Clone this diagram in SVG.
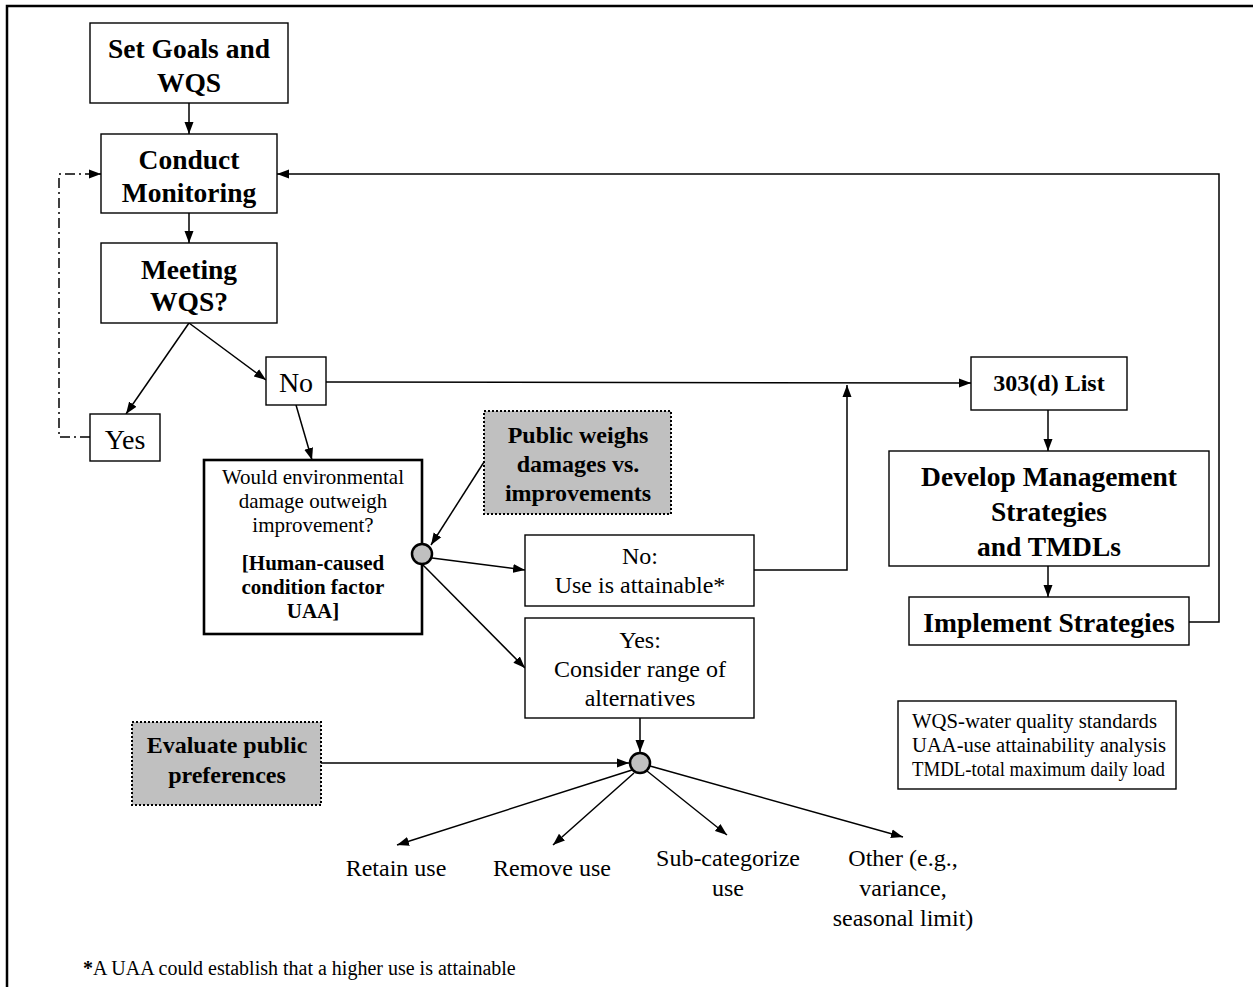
<svg xmlns="http://www.w3.org/2000/svg" width="1253" height="987" viewBox="0 0 1253 987">
  <defs>
    <marker id="arr" viewBox="0 0 12 10" refX="12" refY="5" markerWidth="12" markerHeight="10" markerUnits="userSpaceOnUse" orient="auto">
      <path d="M0,0.5 L12,5 L0,9.5 Z" fill="#000"/>
    </marker>
  </defs>
  <style>
    .box { fill: #fff; stroke: #000; stroke-width: 1.4; }
    .thick { fill: #fff; stroke: #000; stroke-width: 2.6; }
    .pub { fill: #c0c0c0; stroke: #000; stroke-width: 2; stroke-dasharray: 2 2; }
    .hub { fill: #c0c0c0; stroke: #000; stroke-width: 2.5; }
    .ln { fill: none; stroke: #000; stroke-width: 1.5; }
    .t { font-family: "Liberation Serif", "Times New Roman", serif; text-anchor: middle; fill: #000; }
    .s { text-anchor: start; }
    .b { font-weight: bold; }
  </style>
  <rect width="1253" height="987" fill="#fff"/>
  <!-- page frame -->
  <path d="M7,987 L7,6 L1253,6" fill="none" stroke="#000" stroke-width="2.5"/>

  <g id="connectors">
    <line class="ln" x1="189" y1="103" x2="189" y2="134" marker-end="url(#arr)"/>
    <line class="ln" x1="189" y1="213" x2="189" y2="243" marker-end="url(#arr)"/>
    <line class="ln" x1="189" y1="323" x2="126" y2="414" marker-end="url(#arr)"/>
    <line class="ln" x1="189" y1="323" x2="266" y2="380" marker-end="url(#arr)"/>
    <path class="ln" d="M90,437 L59,437 L59,174 L101,174" stroke-dasharray="10 4 2 4" marker-end="url(#arr)"/>
    <line class="ln" x1="326" y1="382" x2="971" y2="383" marker-end="url(#arr)"/>
    <line class="ln" x1="296" y1="405" x2="312" y2="460" marker-end="url(#arr)"/>
    <line class="ln" x1="484" y1="462" x2="431" y2="545" marker-end="url(#arr)"/>
    <line class="ln" x1="432" y1="558" x2="525" y2="570" marker-end="url(#arr)"/>
    <line class="ln" x1="422" y1="564" x2="525" y2="668" marker-end="url(#arr)"/>
    <path class="ln" d="M754,570 L847,570 L847,385" marker-end="url(#arr)"/>
    <line class="ln" x1="1048" y1="410" x2="1048" y2="451" marker-end="url(#arr)"/>
    <line class="ln" x1="1048" y1="566" x2="1048" y2="597" marker-end="url(#arr)"/>
    <path class="ln" d="M1189,622 L1219,622 L1219,174 L277,174" marker-end="url(#arr)"/>
    <line class="ln" x1="640" y1="718" x2="640" y2="752" marker-end="url(#arr)"/>
    <line class="ln" x1="321" y1="763" x2="629" y2="763" stroke-width="2.2" marker-end="url(#arr)"/>
    <line class="ln" x1="632" y1="770" x2="397" y2="845" marker-end="url(#arr)"/>
    <line class="ln" x1="634" y1="773" x2="553" y2="845" marker-end="url(#arr)"/>
    <line class="ln" x1="647" y1="771" x2="727" y2="835" marker-end="url(#arr)"/>
    <line class="ln" x1="650" y1="766" x2="903" y2="837" marker-end="url(#arr)"/>
  </g>

  <g id="set-goals">
    <rect class="box" x="90" y="23" width="198" height="80"/>
    <text class="t b" x="189" y="58" font-size="27.5">Set Goals and</text>
    <text class="t b" x="189" y="92" font-size="27.5">WQS</text>
  </g>
  <g id="conduct-monitoring">
    <rect class="box" x="101" y="134" width="176" height="79"/>
    <text class="t b" x="189" y="169" font-size="27.5">Conduct</text>
    <text class="t b" x="189" y="202" font-size="27.5">Monitoring</text>
  </g>
  <g id="meeting-wqs">
    <rect class="box" x="101" y="243" width="176" height="80"/>
    <text class="t b" x="189" y="279" font-size="27.5">Meeting</text>
    <text class="t b" x="189" y="311" font-size="27.5">WQS?</text>
  </g>
  <g id="yes">
    <rect class="box" x="90" y="414" width="70" height="47"/>
    <text class="t" x="125" y="449" font-size="28">Yes</text>
  </g>
  <g id="no">
    <rect class="box" x="266" y="357" width="60" height="48"/>
    <text class="t" x="296" y="392" font-size="28">No</text>
  </g>
  <g id="env-damage">
    <rect class="thick" x="204" y="460" width="218" height="174"/>
    <text class="t" x="313" y="484" font-size="21">Would environmental</text>
    <text class="t" x="313" y="508" font-size="21">damage outweigh</text>
    <text class="t" x="313" y="532" font-size="21">improvement?</text>
    <text class="t b" x="313" y="570" font-size="21">[Human-caused</text>
    <text class="t b" x="313" y="594" font-size="21">condition factor</text>
    <text class="t b" x="313" y="618" font-size="21">UAA]</text>
  </g>
  <g id="public-weighs">
    <rect class="pub" x="484" y="411" width="187" height="103"/>
    <text class="t b" x="578" y="443" font-size="24">Public weighs</text>
    <text class="t b" x="578" y="472" font-size="24">damages vs.</text>
    <text class="t b" x="578" y="501" font-size="24">improvements</text>
  </g>
  <g id="hub-1">
    <circle class="hub" cx="422" cy="554" r="10"/>
  </g>
  <g id="use-attainable">
    <rect class="box" x="525" y="535" width="229" height="71"/>
    <text class="t" x="640" y="564" font-size="24">No:</text>
    <text class="t" x="640" y="593" font-size="24">Use is attainable*</text>
  </g>
  <g id="consider-alternatives">
    <rect class="box" x="525" y="618" width="229" height="100"/>
    <text class="t" x="640" y="648" font-size="24">Yes:</text>
    <text class="t" x="640" y="677" font-size="24">Consider range of</text>
    <text class="t" x="640" y="706" font-size="24">alternatives</text>
  </g>
  <g id="list-303d">
    <rect class="box" x="971" y="357" width="156" height="53"/>
    <text class="t b" x="1049" y="391" font-size="24">303(d) List</text>
  </g>
  <g id="develop-strategies">
    <rect class="box" x="889" y="451" width="320" height="115"/>
    <text class="t b" x="1049" y="486" font-size="27.5">Develop Management</text>
    <text class="t b" x="1049" y="521" font-size="27.5">Strategies</text>
    <text class="t b" x="1049" y="556" font-size="27.5">and TMDLs</text>
  </g>
  <g id="implement-strategies">
    <rect class="box" x="909" y="597" width="280" height="48"/>
    <text class="t b" x="1049" y="632" font-size="27.5">Implement Strategies</text>
  </g>
  <g id="evaluate-preferences">
    <rect class="pub" x="132" y="722" width="189" height="83"/>
    <text class="t b" x="227" y="753" font-size="24">Evaluate public</text>
    <text class="t b" x="227" y="783" font-size="24">preferences</text>
  </g>
  <g id="hub-2">
    <circle class="hub" cx="640" cy="763" r="10"/>
  </g>
  <g id="outcomes">
    <text class="t" x="396" y="876" font-size="24">Retain use</text>
    <text class="t" x="552" y="876" font-size="24">Remove use</text>
    <text class="t" x="728" y="866" font-size="24">Sub-categorize</text>
    <text class="t" x="728" y="896" font-size="24">use</text>
    <text class="t" x="903" y="866" font-size="24">Other (e.g.,</text>
    <text class="t" x="903" y="896" font-size="24">variance,</text>
    <text class="t" x="903" y="926" font-size="24">seasonal limit)</text>
  </g>
  <g id="legend">
    <rect class="box" x="898" y="701" width="278" height="88"/>
    <text class="t s" x="912" y="728" font-size="20.5" textLength="245" lengthAdjust="spacingAndGlyphs">WQS-water quality standards</text>
    <text class="t s" x="912" y="752" font-size="20.5" textLength="254" lengthAdjust="spacingAndGlyphs">UAA-use attainability analysis</text>
    <text class="t s" x="912" y="776" font-size="20.5" textLength="253" lengthAdjust="spacingAndGlyphs">TMDL-total maximum daily load</text>
  </g>
  <g id="footnote">
    <text class="t s" x="83" y="975" font-size="20"><tspan font-weight="bold">*</tspan>A UAA could establish that a higher use is attainable</text>
  </g>
</svg>
